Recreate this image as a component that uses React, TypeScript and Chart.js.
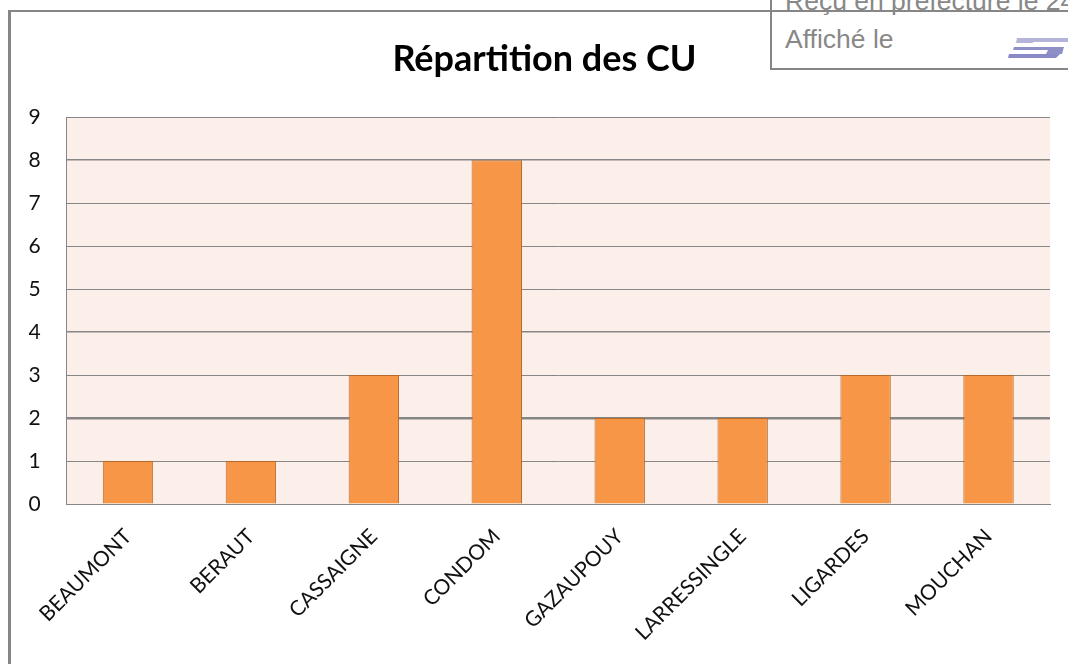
import React, { useEffect, useRef } from "react";
import { Chart, registerables } from "chart.js";

Chart.register(...registerables);

const categories = ["BEAUMONT", "BERAUT", "CASSAIGNE", "CONDOM", "GAZAUPOUY", "LARRESSINGLE", "LIGARDES", "MOUCHAN"];
const cuCounts = [1, 1, 3, 8, 2, 2, 3, 3];
const heavyGridValues = [2];
const mediumGridValues = [4, 8];
const chartTitle = "Répartition des CU";

const plotBackground = {
  id: "plotBackground",
  beforeDraw(chart: any) {
    const { ctx, chartArea: a } = chart;
    ctx.save();
    ctx.fillStyle = "#FCEFE9";
    ctx.fillRect(a.left, a.top, a.right - a.left, a.bottom - a.top);
    ctx.restore();
  },
};

const box = (style: React.CSSProperties): React.CSSProperties => ({ position: "absolute", ...style });

export default function App() {
  const ref = useRef<HTMLCanvasElement>(null);
  useEffect(() => {
    const chart = new Chart(ref.current as HTMLCanvasElement, {
      type: "bar",
      data: {
        labels: categories,
        datasets: [
          {
            data: cuCounts,
            backgroundColor: "#F79646",
            borderColor: "#B5692B",
            borderWidth: 1,
            barPercentage: 0.41,
            categoryPercentage: 1,
          },
        ],
      },
      options: {
        responsive: false,
        animation: false,
        layout: { padding: { left: 39, right: 18, top: 0, bottom: 0 } },
        plugins: {
          legend: { display: false },
          tooltip: { enabled: false },
          title: {
            display: true,
            text: chartTitle,
            color: "#000000",
            font: { family: "Lato", size: 36, weight: "bold" },
            padding: { top: 38, bottom: 36 },
          },
        },
        scales: {
          x: {
            grid: { display: false },
            border: { color: "#868686", width: 1 },
            ticks: {
              color: "#111111",
              font: { family: "Lato", size: 21 },
              maxRotation: 45,
              minRotation: 45,
              padding: 12,
            },
            afterFit(scale: any) {
              scale.height = 160;
            },
          },
          y: {
            min: 0,
            max: 9,
            afterFit(scale: any) {
              scale.width = 27.5;
            },
            border: { color: "#868686", width: 1 },
            grid: {
              drawTicks: false,
              color: "#868686",
              lineWidth: (c: any) =>
                heavyGridValues.includes(c.tick.value) ? 2.5 : mediumGridValues.includes(c.tick.value) ? 1.6 : 1,
            },
            ticks: {
              stepSize: 1,
              color: "#111111",
              font: { family: "Lato", size: 21 },
              mirror: true,
              padding: -38,
            },
          },
        },
      },
      plugins: [plotBackground],
    } as any);
    return () => chart.destroy();
  }, []);

  return (
    <div style={{ position: "fixed", left: 0, top: 0, width: 1068, height: 664, overflow: "hidden", background: "#fff" }}>
      <canvas ref={ref} width={1068} height={664} style={{ position: "absolute", left: 0, top: 0, display: "block" }} />
      <div style={box({ left: 8, top: 10, width: 3, height: 654, background: "#868686" })} />
      <div style={box({ left: 8, top: 10, width: 1060, height: 2, background: "#868686" })} />
      <div style={box({ left: 770, top: 0, width: 298, height: 70, background: "#fff", overflow: "hidden", fontFamily: "'Liberation Sans'", fontSize: 26.5, color: "#888888" })}>
        <div style={box({ left: 0, top: 0, width: 2, height: 70, background: "#868686" })} />
        <div style={box({ left: 15, top: -14, whiteSpace: "nowrap", lineHeight: "30px" })}>Reçu en préfecture le 24</div>
        <div style={box({ left: 0, top: 10, width: 298, height: 2, background: "#868686" })} />
        <div style={box({ left: 0, top: 68, width: 298, height: 2, background: "#868686" })} />
        <div style={box({ left: 15, top: 24, whiteSpace: "nowrap", lineHeight: "30px" })}>Affiché le</div>
        <svg style={box({ left: 236, top: 34, width: 62, height: 28, filter: "blur(0.6px)" })} viewBox="0 0 62 28">
          <path d="M11 4 H62 V8 H28 L26 9 H10 Z" fill="#b4b4d8" />
          <path d="M8 13 H58 L56 20 H40 L42 16 H7 Z" fill="#8f8fc8" />
          <path d="M3 20 H54 L50 24 H2 Z" fill="#8a8ac6" />
        </svg>
      </div>
    </div>
  );
}
